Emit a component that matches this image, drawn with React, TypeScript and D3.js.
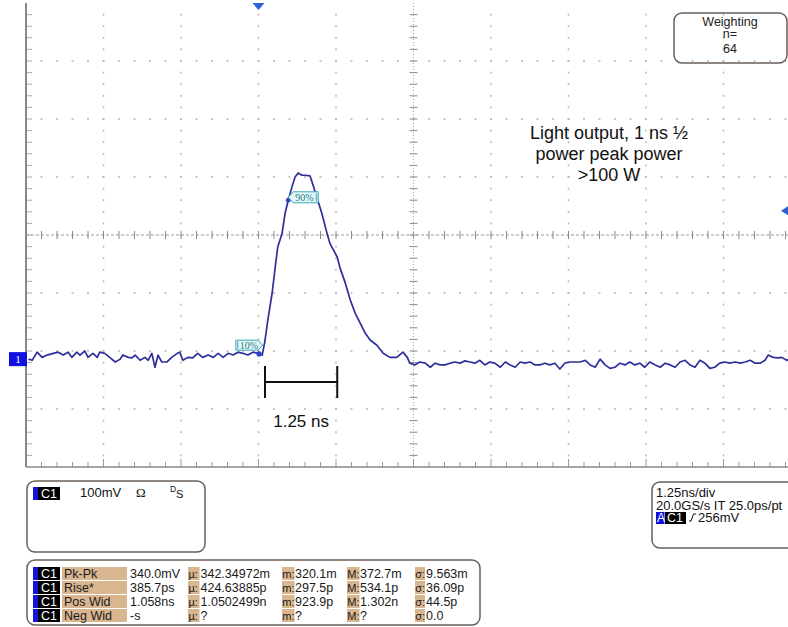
import React from 'react';
import * as d3 from 'd3';

// ---- Scope settings ----
const timePerDiv = 1.25; // ns/div
const voltsPerDiv = 100; // mV/div
const hDivs = 10;
const vDivs = 8;
const triggerDivFromLeft = 3;
const groundDivBelowCenter = 2.14;
const triggerLevelMv = 256;

// ---- Trace (time in ns relative to trigger, voltage in mV) ----
const traceTime = [
  -3.71, -3.65, -3.57, -3.49, -3.41, -3.31, -3.23, -3.15, -3.07, -3.01, -2.93, -2.88, -2.8, -2.75, -2.67, -2.6,
  -2.56, -2.48, -2.4, -2.31, -2.23, -2.19, -2.1, -2.04, -1.99, -1.91, -1.83, -1.78, -1.72, -1.67, -1.62, -1.56,
  -1.48, -1.4, -1.31, -1.27, -1.22, -1.14, -1.06, -0.98, -0.9, -0.81, -0.73, -0.65, -0.57, -0.49, -0.41, -0.33,
  -0.25, -0.17, -0.09, -0.01, 0.06, 0.1, 0.15, 0.22, 0.27, 0.31, 0.38, 0.43, 0.48, 0.54, 0.59, 0.64, 0.7, 0.75,
  0.83, 0.88, 0.94, 1.02, 1.1, 1.15, 1.27, 1.31, 1.4, 1.48, 1.56, 1.64, 1.72, 1.8, 1.91, 2.01, 2.12, 2.23, 2.33,
  2.4, 2.44, 2.52, 2.6, 2.69, 2.77, 2.85, 2.93, 3.01, 3.09, 3.17, 3.25, 3.33, 3.41, 3.49, 3.57, 3.65, 3.73, 3.81,
  3.9, 3.98, 4.06, 4.14, 4.22, 4.3, 4.38, 4.46, 4.54, 4.62, 4.7, 4.78, 4.86, 4.94, 5.02, 5.1, 5.19, 5.27, 5.35,
  5.43, 5.51, 5.59, 5.67, 5.75, 5.83, 5.91, 5.99, 6.07, 6.15, 6.23, 6.31, 6.4, 6.48, 6.56, 6.64, 6.72, 6.8, 6.88,
  6.96, 7.04, 7.12, 7.2, 7.28, 7.36, 7.44, 7.52, 7.6, 7.69, 7.77, 7.85, 7.93, 8.01, 8.09, 8.17, 8.22, 8.3, 8.38,
  8.44, 8.52, 8.6,
];
const traceMv = [
  0, -2, 12, 3, 7, 10, 12, 7, 12, 3, 12, 7, 14, 3, 10, 3,
  12, 10, 3, -5, 0, 7, 3, 2, 7, -2, 3, -2, 10, -14, 7, -5,
  -5, 3, 10, 12, -2, 3, 2, 10, 3, 7, 3, 10, 3, 10, 7, 12,
  10, 7, 12, 10, 7, 29, 67, 114, 159, 193, 217, 252, 274, 297, 314, 321, 317, 317,
  316, 300, 279, 252, 219, 200, 176, 159, 131, 102, 79, 62, 45, 33, 24, 10, 3, 3, 12,
  3, -7, -10, -5, -7, -14, -7, -10, -10, -7, -5, -7, -3, -5, -7, -2, -10, -5, -7,
  -14, -5, -10, -14, -5, -7, -5, -10, -10, -7, -10, -7, -17, -7, -5, -5, -5, -2, -10,
  -14, 0, -10, -16, -14, -7, -10, -5, -10, -7, -14, -5, -10, -14, -7, -10, -14, -5, -2,
  -10, -14, -2, -7, -16, -14, -7, -5, -7, -5, -7, -5, -2, -7, -7, -2, 7, 3, 2,
  3, -2, 2,
];

// ---- Texts ----
const weightingLines = ['Weighting', 'n=', '64'];
const annotationLines = ['Light output, 1 ns \u00BD', 'power peak power', '>100 W'];
const scaleBarLabel = '1.25 ns';
const scaleBarStart = 0.105; // ns
const scaleBarEnd = 1.27; // ns
const channelScale = '100mV';
const measLabels = ['Pk-Pk', 'Rise*', 'Pos Wid', 'Neg Wid'];
const measValues = ['340.0mV', '385.7ps', '1.058ns', '-s'];
const measMean = ['342.34972m', '424.63885p', '1.0502499n', '?'];
const measMin = ['320.1m', '297.5p', '923.9p', '?'];
const measMax = ['372.7m', '534.1p', '1.302n', '?'];
const measStd = ['9.563m', '36.09p', '44.5p', '0.0'];
const timebaseLines = ['1.25ns/div', '20.0GS/s IT 25.0ps/pt'];
const triggerLevelText = '256mV';

const SANS = "'Liberation Sans', Arial, sans-serif";
const SERIF = "'Liberation Serif', 'Times New Roman', serif";
const TAN = '#d9b590';
const BOXSTROKE = '#6a5f58';
const TRACE = '#2f2f9c';
const MARKBLUE = '#2f5fd6';

export default function App() {
  const W = 788;
  const H = 627;
  const left = 26;
  const right = 801;
  const top = 3;
  const bottom = 467;

  const x = d3
    .scaleLinear()
    .domain([-triggerDivFromLeft * timePerDiv, (hDivs - triggerDivFromLeft) * timePerDiv])
    .range([left, right]);
  const y = d3
    .scaleLinear()
    .domain([-(vDivs / 2 - groundDivBelowCenter) * voltsPerDiv, (vDivs / 2 + groundDivBelowCenter) * voltsPerDiv])
    .range([bottom, top]);

  const [t0] = x.domain();
  const [v0] = y.domain();
  const majorT = d3.range(0, hDivs + 1).map((i) => t0 + i * timePerDiv);
  const minorT = d3.range(0, hDivs * 5 + 1).map((i) => t0 + (i * timePerDiv) / 5);
  const majorV = d3.range(0, vDivs + 1).map((i) => v0 + i * voltsPerDiv);
  const minorV = d3.range(0, vDivs * 5 + 1).map((i) => v0 + (i * voltsPerDiv) / 5);
  const cx = x(t0 + (hDivs / 2) * timePerDiv);
  const cy = y(v0 + (vDivs / 2) * voltsPerDiv);

  const pts: [number, number][] = traceTime.map((t, i) => [t, traceMv[i]]);
  const line = d3
    .line<[number, number]>()
    .x((d) => x(d[0]))
    .y((d) => y(d[1]));

  const dots: JSX.Element[] = [];
  majorV.slice(1, -1).forEach((v, i) => {
    const yy = y(v);
    if (Math.abs(yy - cy) < 1) return;
    minorT.slice(1).forEach((t, j) => {
      dots.push(<rect key={`h${i}-${j}`} x={x(t) - 1} y={yy - 0.75} width={2} height={1.5} fill="#b8b8b8" />);
    });
  });
  majorT.slice(1, -1).forEach((t, i) => {
    const xx = x(t);
    if (Math.abs(xx - cx) < 1) return;
    minorV.slice(1, -1).forEach((v, j) => {
      dots.push(<rect key={`v${i}-${j}`} x={xx - 0.75} y={y(v) - 1} width={1.5} height={2} fill="#b8b8b8" />);
    });
  });

  const g0 = y(0);
  const trigX = x(0);
  const trigY = y(triggerLevelMv);

  // 10% / 90% marker anchor points
  const tip10 = [x(0.07), y(24)];
  const tip90 = [x(0.48), y(279)];
  const dot10 = [x(0.01), y(9)];
  const dot90 = [x(0.48), y(274)];

  const rowTop = (i: number) => 567 + 14 * i;

  return (
    <svg
      width={W}
      height={H}
      viewBox={`0 0 ${W} ${H}`}
      style={{ position: 'absolute', left: 0, top: 0, background: '#fff' }}
    >
      <defs>
        <clipPath id="plotClip">
          <rect x={left} y={top} width={W - left} height={bottom - top} />
        </clipPath>
      </defs>
      <rect x={0} y={0} width={W} height={H} fill="#fff" />

      {/* graticule dots */}
      <g>{dots}</g>

      {/* center horizontal line with ticks */}
      <line x1={left} x2={W} y1={cy} y2={cy} stroke="#9a9a9a" strokeWidth={1} strokeDasharray="3,2" />
      {minorT.slice(1).map((t, i) => (
        <line key={`ct${i}`} x1={x(t)} x2={x(t)} y1={cy - 4} y2={cy + 4} stroke="#8a8a8a" strokeWidth={1} />
      ))}
      {/* center vertical line with ticks */}
      <line x1={cx} x2={cx} y1={top} y2={bottom} stroke="#a8a8a8" strokeWidth={1} strokeDasharray="1,2" />
      {minorV.slice(1, -1).map((v, i) => (
        <line key={`cv${i}`} x1={cx - 4} x2={cx + 4} y1={y(v)} y2={y(v)} stroke="#8a8a8a" strokeWidth={1} />
      ))}
      {/* left edge ticks */}
      {minorV.slice(1, -1).map((v, i) => (
        <line key={`le${i}`} x1={left} x2={left + 6} y1={y(v)} y2={y(v)} stroke="#aaa" strokeWidth={1} />
      ))}
      {/* bottom edge ticks */}
      {minorT.slice(1).map((t, i) => (
        <line
          key={`be${i}`}
          x1={x(t)}
          x2={x(t)}
          y1={bottom}
          y2={bottom - (i % 5 === 4 ? 8 : 5)}
          stroke="#999"
          strokeWidth={1}
        />
      ))}
      {/* borders */}
      <line x1={left} x2={left} y1={top} y2={bottom} stroke="#888" strokeWidth={2} />
      <line x1={left} x2={W} y1={bottom} y2={bottom} stroke="#888" strokeWidth={1.5} />

      {/* trace */}
      <path d={line(pts) || ''} fill="none" stroke={TRACE} strokeWidth={1.7} strokeLinejoin="round" clipPath="url(#plotClip)" />

      {/* 10% marker */}
      <circle cx={dot10[0]} cy={dot10[1]} r={2.6} fill="#2f3fd0" />
      <path
        d={`M${tip10[0] - 27},${tip10[1] - 5} H${tip10[0] - 5} L${tip10[0]},${tip10[1]} L${tip10[0] - 5},${tip10[1] + 5} H${tip10[0] - 27} Z`}
        fill="#e4f8f8"
        stroke="#3aa4b6"
        strokeWidth={1}
      />
      <line x1={tip10[0] - 25} x2={tip10[0] - 25} y1={tip10[1] - 4} y2={tip10[1] + 4} stroke="#3aa4b6" />
      <text x={tip10[0] - 23} y={tip10[1] + 3.5} fontFamily={SERIF} fontSize={10} fill="#1f7a8a">
        10%
      </text>
      {/* 90% marker */}
      <circle cx={dot90[0]} cy={dot90[1]} r={2.4} fill="#2f3fd0" />
      <path
        d={`M${tip90[0]},${tip90[1]} L${tip90[0] + 5},${tip90[1] - 5.5} H${tip90[0] + 30} V${tip90[1] + 5.5} H${tip90[0] + 5} Z`}
        fill="#e4f8f8"
        stroke="#3aa4b6"
        strokeWidth={1}
      />
      <line x1={tip90[0] + 28} x2={tip90[0] + 28} y1={tip90[1] - 4} y2={tip90[1] + 4} stroke="#3aa4b6" />
      <text x={tip90[0] + 7} y={tip90[1] + 3.5} fontFamily={SERIF} fontSize={10} fill="#1f7a8a">
        90%
      </text>

      {/* trigger position marker (top) */}
      <polygon points={`${trigX - 6},${top} ${trigX + 6},${top} ${trigX},${top + 7}`} fill={MARKBLUE} />
      {/* trigger level marker (right) */}
      <polygon points={`${W - 7},${trigY} ${W},${trigY - 4.5} ${W},${trigY + 4.5}`} fill={MARKBLUE} />
      {/* channel 1 ground marker */}
      <rect x={9} y={g0 - 7} width={18} height={14} fill="#1010e0" />
      <text x={18} y={g0 + 4} textAnchor="middle" fontFamily={SERIF} fontSize={11} fill="#fff">
        1
      </text>

      {/* Weighting box */}
      <rect x={674} y={13} width={113} height={50} rx={8} fill="none" stroke={BOXSTROKE} strokeWidth={1.5} />
      {weightingLines.map((s, i) => (
        <text
          key={`w${i}`}
          x={730}
          y={[26, 37.5, 53][i]}
          textAnchor="middle"
          fontFamily={SANS}
          fontSize={12.5}
          fill="#222"
        >
          {s}
        </text>
      ))}

      {/* annotation */}
      {annotationLines.map((s, i) => (
        <text key={`a${i}`} x={609} y={139 + 21 * i} textAnchor="middle" fontFamily={SANS} fontSize={18} fill="#111">
          {s}
        </text>
      ))}

      {/* scale bar */}
      <g stroke="#111" strokeWidth={2}>
        <line x1={x(scaleBarStart)} x2={x(scaleBarStart)} y1={366} y2={398} />
        <line x1={x(scaleBarEnd)} x2={x(scaleBarEnd)} y1={366} y2={398} />
        <line x1={x(scaleBarStart)} x2={x(scaleBarEnd)} y1={382} y2={382} />
      </g>
      <text
        x={(x(scaleBarStart) + x(scaleBarEnd)) / 2}
        y={427}
        textAnchor="middle"
        fontFamily={SANS}
        fontSize={17}
        fill="#111"
      >
        {scaleBarLabel}
      </text>

      {/* Channel box */}
      <rect x={27} y={481} width={178} height={71} rx={8} fill="none" stroke={BOXSTROKE} strokeWidth={1.5} />
      <rect x={33} y={487} width={5} height={13} fill="#1414d8" />
      <rect x={38} y={487} width={22} height={13} fill="#000" />
      <text x={41} y={498} fontFamily={SANS} fontSize={12.5} fill="#fff">
        C1
      </text>
      <text x={80} y={497} fontFamily={SANS} fontSize={13} fill="#111">
        {channelScale}
      </text>
      <text x={136} y={497} fontFamily={SERIF} fontSize={13} fill="#111">
        Ω
      </text>
      <text x={170} y={492} fontFamily={SANS} fontSize={8.5} fill="#111">
        D
      </text>
      <text x={176} y={498} fontFamily={SANS} fontSize={11} fill="#111">
        S
      </text>

      {/* Measurement table */}
      <rect x={27} y={560} width={453} height={65} rx={8} fill="none" stroke={BOXSTROKE} strokeWidth={1.5} />
      {measLabels.map((lab, i) => {
        const t = rowTop(i);
        const b = t + 11;
        return (
          <g key={`m${i}`} fontFamily={SANS} fontSize={12.5} fill="#1a1a1a">
            <rect x={33} y={t} width={5} height={13} fill="#1414d8" />
            <rect x={38} y={t} width={22} height={13} fill="#000" />
            <text x={41} y={b} fill="#fff">
              C1
            </text>
            <rect x={62} y={t} width={65} height={13} fill={TAN} />
            <text x={64} y={b}>{lab}</text>
            <text x={130} y={b}>{measValues[i]}</text>
            <rect x={188} y={t} width={11.5} height={13} fill={TAN} />
            <text x={188.5} y={b} fontSize={11}>µ:</text>
            <text x={200.5} y={b}>{measMean[i]}</text>
            <rect x={282} y={t} width={12.5} height={13} fill={TAN} />
            <text x={282.3} y={b} fontSize={11}>m:</text>
            <text x={295} y={b}>{measMin[i]}</text>
            <rect x={347} y={t} width={12.5} height={13} fill={TAN} />
            <text x={347.3} y={b} fontSize={11}>M:</text>
            <text x={360} y={b}>{measMax[i]}</text>
            <rect x={415} y={t} width={10} height={13} fill={TAN} />
            <text x={415.3} y={b} fontSize={11}>σ:</text>
            <text x={426} y={b}>{measStd[i]}</text>
          </g>
        );
      })}

      {/* Timebase / trigger box */}
      <rect x={652} y={482} width={170} height={66} rx={8} fill="none" stroke={BOXSTROKE} strokeWidth={1.5} />
      {timebaseLines.map((s, i) => (
        <text key={`tb${i}`} x={656} y={497 + 12.5 * i} fontFamily={SANS} fontSize={13} fill="#111">
          {s}
        </text>
      ))}
      <rect x={656} y={512} width={8.5} height={12} fill="#1010e0" />
      <text x={657} y={522} fontFamily={SANS} fontSize={12} fill="#fff">
        A
      </text>
      <rect x={665} y={512} width={21} height={12} fill="#000" />
      <text x={667} y={522} fontFamily={SANS} fontSize={12.5} fill="#fff">
        C1
      </text>
      <path d="M689,521 L691,521 L693.5,514 L696,514" fill="none" stroke="#111" strokeWidth={1} />
      <text x={698} y={522} fontFamily={SANS} fontSize={13} fill="#111">
        {triggerLevelText}
      </text>
    </svg>
  );
}
